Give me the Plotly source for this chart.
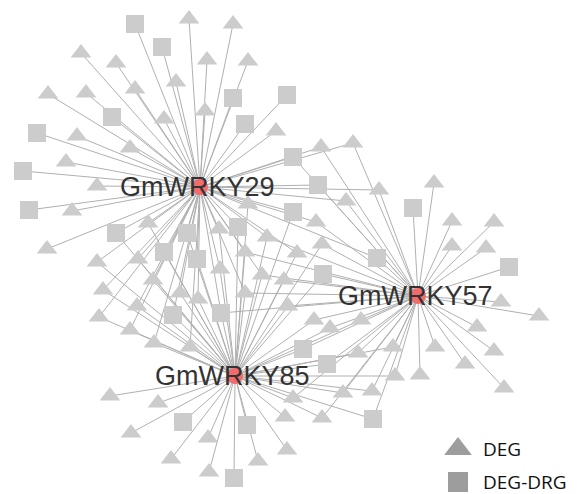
import plotly.graph_objects as go

# ---------------- data ----------------
hub_names = ["GmWRKY29", "GmWRKY57", "GmWRKY85"]
hub_ids = ["29", "57", "85"]
hub_x = [200, 418, 235]
hub_y = [187, 296, 376]

# target genes: layout position, category, linked hubs
node_x = [135, 189, 233, 162, 81, 116, 207, 248, 176, 135, 48, 86, 233, 287, 205, 112, 164, 245, 276, 37,
          77, 130, 66, 23, 97, 29, 72, 47,
          293, 321, 353, 318, 379, 346, 248, 293, 316, 322, 297, 377, 323, 284, 288, 314, 361, 330, 303, 327,
          358, 393, 395, 420, 372, 343, 293, 285, 322, 373, 287, 258,
          434, 413, 452, 494, 452, 486, 509, 501, 539, 477, 435, 494, 465, 504,
          110, 158, 183, 247, 131, 208, 171, 209, 234,
          116, 148, 187, 219, 238, 267, 164, 197, 245, 97, 138, 220, 262, 153, 103, 180, 198, 245, 137, 99,
          173, 221, 130, 154, 190]
node_y = [24, 19, 24, 47, 53, 63, 60, 61, 82, 89, 94, 93, 98, 95, 111, 117, 119, 124, 131, 133,
          136, 148, 162, 171, 186, 210, 211, 249,
          157, 147, 143, 185, 190, 201, 204, 212, 222, 244, 253, 258, 274, 280, 306, 320, 320, 328, 349, 364,
          353, 347, 376, 375, 391, 393, 398, 417, 418, 419, 450, 461,
          183, 208, 221, 222, 246, 248, 267, 302, 316, 327, 347, 351, 364, 388,
          396, 403, 422, 425, 433, 438, 459, 472, 478,
          233, 223, 233, 229, 227, 237, 252, 259, 252, 262, 259, 269, 275, 280, 290, 293, 299, 293, 306, 317,
          315, 313, 330, 343, 347]
node_kind = ["S", "T", "T", "S", "T", "T", "T", "T", "T", "T", "T", "T", "S", "S", "T", "S", "T", "S", "T", "S",
             "T", "T", "T", "S", "T", "S", "T", "T",
             "S", "T", "T", "S", "T", "T", "T", "S", "T", "T", "T", "S", "S", "T", "T", "T", "T", "T", "S", "S",
             "T", "T", "T", "T", "T", "T", "T", "T", "T", "S", "T", "T",
             "T", "S", "T", "T", "T", "T", "S", "T", "T", "T", "T", "T", "T", "T",
             "T", "T", "S", "S", "T", "T", "T", "T", "S",
             "S", "T", "S", "T", "S", "T", "S", "S", "T", "T", "T", "T", "T", "T", "T", "T", "T", "T", "T", "T",
             "S", "S", "T", "T", "T"]
node_links = ["29"] * 28 + \
    ["29,57", "29,57", "29,57", "29,57", "29,57", "29,57", "29,85", "29,85", "29,57", "57,85", "29,85",
     "29,57", "57,85", "57,85", "57,85", "57,85", "57,85", "57,85", "57,85", "57,85",
     "57,85", "57,85", "57,85", "57", "57,85", "57,85", "57,85", "85", "57,85", "57,85", "85", "85"] + \
    ["57"] * 14 + ["85"] * 9 + \
    ["29,85", "29,85", "29,85", "29,85", "29,85", "29,85,57", "29,85", "29,85", "29,85,57", "29,85",
     "29,85", "29,85", "29,85,57", "29,85", "29,85", "29,85", "29,85", "29,85,57", "29,85", "29,85",
     "29,85", "29,85,57", "29,85", "29,85", "29,85"]

legend_labels = ["DEG", "DEG-DRG"]

# ---------------- styles ----------------
NODE_GREY = "#cccccc"
EDGE_GREY = "#b0b0b0"
HUB_RED = "#f36b6b"
W, H = 577, 494

hub_pos = {h: (x, y) for h, x, y in zip(hub_ids, hub_x, hub_y)}

ex, ey = [], []
for x, y, links in zip(node_x, node_y, node_links):
    for h in links.split(","):
        hx, hy = hub_pos[h]
        ex += [hx, x, None]
        ey += [hy, y, None]

fig = go.Figure()
fig.add_trace(go.Scatter(x=ex, y=ey, mode="lines",
                         line=dict(color=EDGE_GREY, width=1), hoverinfo="skip", showlegend=False))

tri_x = [x for x, k in zip(node_x, node_kind) if k == "T"]
tri_y = [y for y, k in zip(node_y, node_kind) if k == "T"]
sq_x = [x for x, k in zip(node_x, node_kind) if k == "S"]
sq_y = [y for y, k in zip(node_y, node_kind) if k == "S"]

fig.add_trace(go.Scatter(x=tri_x, y=tri_y, mode="markers", name="DEG",
                         marker=dict(symbol="triangle-up", size=18, color=NODE_GREY, line=dict(width=0)),
                         showlegend=False))
fig.add_trace(go.Scatter(x=sq_x, y=sq_y, mode="markers", name="DEG-DRG",
                         marker=dict(symbol="square", size=18, color=NODE_GREY, line=dict(width=0)),
                         showlegend=False))
fig.add_trace(go.Scatter(x=hub_x, y=hub_y, mode="markers", name="WRKY",
                         marker=dict(symbol="circle", size=16, color=HUB_RED, line=dict(width=0)),
                         showlegend=False))

for name, x, y in zip(hub_names, hub_x, hub_y):
    fig.add_annotation(x=x - 3, y=y, text=name, showarrow=False, xanchor="center", yanchor="middle",
                       font=dict(family="Liberation Sans, Arial", size=27, color="#333333"))

# legend (drawn inside the plot area, bottom right)
leg_x = [458, 458]
leg_y = [449, 482]
leg_sym = ["triangle-up", "square"]
leg_size = [24, 20]
for lab, lx, ly, sym, sz in zip(legend_labels, leg_x, leg_y, leg_sym, leg_size):
    fig.add_trace(go.Scatter(x=[lx], y=[ly], mode="markers",
                             marker=dict(symbol=sym, size=sz, color="#9d9d9d", line=dict(width=0)),
                             hoverinfo="skip", showlegend=False))
    fig.add_annotation(x=lx + 24, y=ly, text=lab, showarrow=False, xanchor="left", yanchor="middle",
                       borderpad=0, font=dict(family="Open Sans", size=19, color="#111111"))

fig.update_layout(width=W, height=H, autosize=False,
                  margin=dict(l=0, r=0, t=0, b=0),
                  paper_bgcolor="white", plot_bgcolor="white",
                  xaxis=dict(range=[0, W], visible=False, fixedrange=True),
                  yaxis=dict(range=[H, 0], visible=False, fixedrange=True))

fig.write_html("out.html", config={"displayModeBar": False},
               post_script="document.body.style.margin='0';")
